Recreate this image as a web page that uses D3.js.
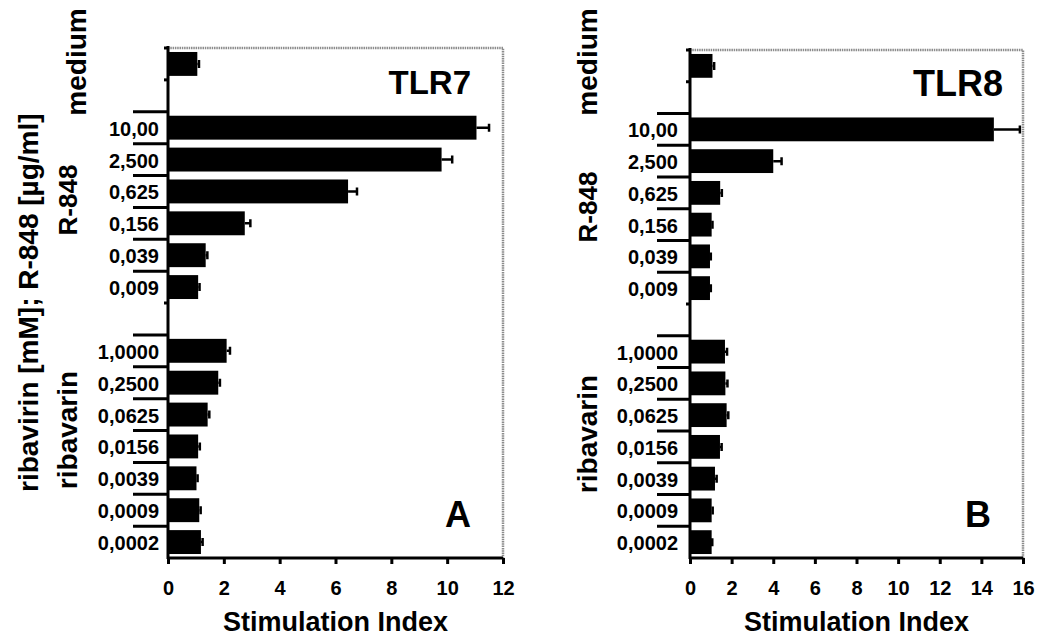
<!DOCTYPE html>
<html>
<head>
<meta charset="utf-8">
<script src="https://d3js.org/d3.v7.min.js"></script>
<style>
  body { margin: 0; background: #fff; }
  svg text { font-family: "Liberation Sans", Arial, sans-serif; font-weight: bold; fill: #000; }
</style>
</head>
<body>
<div id="chart"></div>
<script>
// rows from top to bottom; "" rows are the blank spacers between groups
var rowKeys = ["medium", "", "10,00", "2,500", "0,625", "0,156", "0,039", "0,009", " ",
  "1,0000", "0,2500", "0,0625", "0,0156", "0,0039", "0,0009", "0,0002"];
var doseRows = ["10,00", "2,500", "0,625", "0,156", "0,039", "0,009",
  "1,0000", "0,2500", "0,0625", "0,0156", "0,0039", "0,0009", "0,0002"];
var barRows = ["medium"].concat(doseRows);

// stimulation index per bar (same order as barRows)
var tlr7Values = [1.05, 11.05, 9.8, 6.45, 2.75, 1.35, 1.08, 2.1, 1.8, 1.42, 1.08, 1.02, 1.12, 1.18];
var tlr7Errors = [0.06, 0.45, 0.38, 0.32, 0.2, 0.06, 0.05, 0.12, 0.06, 0.06, 0.06, 0.04, 0.05, 0.06];
var tlr8Values = [1.08, 14.6, 4.0, 1.45, 1.04, 0.96, 0.96, 1.68, 1.7, 1.76, 1.44, 1.2, 1.04, 1.04];
var tlr8Errors = [0.08, 1.25, 0.4, 0.08, 0.04, 0.04, 0.04, 0.1, 0.1, 0.08, 0.08, 0.08, 0.05, 0.03];

var tlr7Ticks = [0, 2, 4, 6, 8, 10, 12];
var tlr8Ticks = [0, 2, 4, 6, 8, 10, 12, 14, 16];

var svg = d3.select("#chart").append("svg")
  .attr("width", 1052)
  .attr("height", 638);

function drawPanel(p) {
  var g = svg.append("g");

  var x = d3.scaleLinear().domain([0, p.xMax]).range([p.left, p.right]);
  var y = d3.scaleBand().domain(rowKeys).range([p.top, p.bottom])
    .paddingInner(0.25).paddingOuter(0.125);
  var step = y.step();
  var rowTop = function (k) { return y(k) - step * 0.125; };

  // grey frame on top and right
  g.append("path")
    .attr("d", "M" + p.left + "," + p.top + "H" + p.right + "V" + p.bottom)
    .attr("fill", "none")
    .attr("stroke", "#8c8c8c")
    .attr("stroke-width", 2.5)
    .attr("stroke-dasharray", "1.5,0.8");

  // bars
  g.selectAll("rect.bar").data(barRows).enter().append("rect")
    .attr("class", "bar")
    .attr("x", x(0))
    .attr("y", function (d) { return y(d); })
    .attr("width", function (d, i) { return x(p.values[i]) - x(0); })
    .attr("height", y.bandwidth())
    .attr("fill", "#000");

  // error bars (one sided)
  g.selectAll("path.err").data(barRows).enter().append("path")
    .attr("class", "err")
    .attr("d", function (d, i) {
      var cy = y(d) + y.bandwidth() / 2;
      var x1 = x(p.values[i]), x2 = x(p.values[i] + p.errors[i]);
      return "M" + x1 + "," + cy + "H" + x2 + "M" + x2 + "," + (cy - 4) + "V" + (cy + 4);
    })
    .attr("stroke", "#000")
    .attr("stroke-width", 2.5)
    .attr("fill", "none");

  // long category ticks at the top of each dose row
  g.selectAll("line.ytick").data(doseRows).enter().append("line")
    .attr("class", "ytick")
    .attr("x1", p.left - p.tickLen).attr("x2", p.left)
    .attr("y1", function (d) { return rowTop(d); })
    .attr("y2", function (d) { return rowTop(d); })
    .attr("stroke", "#000").attr("stroke-width", 3);

  // short ticks around the medium row and below the R-848 group
  var shortTicks = [rowTop("medium"), rowTop(""), rowTop(" ")];
  g.selectAll("line.stick").data(shortTicks).enter().append("line")
    .attr("class", "stick")
    .attr("x1", p.left - 4).attr("x2", p.left)
    .attr("y1", function (d) { return d; })
    .attr("y2", function (d) { return d; })
    .attr("stroke", "#000").attr("stroke-width", 3);

  // dose labels
  g.selectAll("text.ylab").data(doseRows).enter().append("text")
    .attr("class", "ylab")
    .attr("x", p.labelX)
    .attr("y", function (d) { return y(d) + y.bandwidth() / 2 + 8; })
    .attr("text-anchor", "end")
    .style("font-size", "20px")
    .text(function (d) { return d; });

  // y axis line
  g.append("line")
    .attr("x1", p.left).attr("x2", p.left)
    .attr("y1", p.top - 2).attr("y2", p.bottom + 1)
    .attr("stroke", "#000").attr("stroke-width", 3);

  // x axis
  var xAxis = d3.axisBottom(x).tickValues(p.ticks).tickSize(6).tickPadding(17)
    .tickFormat(d3.format("d"));
  var ax = g.append("g")
    .attr("transform", "translate(0," + p.bottom + ")")
    .call(xAxis);
  ax.select(".domain").attr("stroke-width", 3).attr("d", "M" + p.left + ",0H" + p.right);
  ax.selectAll(".tick line").attr("stroke-width", 3);
  ax.selectAll(".tick text")
    .style("font-size", "20px")
    .style("font-family", "'Liberation Sans', Arial, sans-serif")
    .style("font-weight", "bold");

  g.append("text")
    .attr("x", (p.left + p.right) / 2)
    .attr("y", 631)
    .attr("text-anchor", "middle")
    .style("font-size", "27px")
    .text("Stimulation Index");

  // group labels (rotated)
  p.groupLabels.forEach(function (gl) {
    g.append("text")
      .attr("transform", "translate(" + gl.x + "," + gl.y + ") rotate(-90)")
      .attr("text-anchor", gl.anchor || "middle")
      .style("font-size", gl.size + "px")
      .text(gl.text);
  });

  // panel titles
  g.append("text")
    .attr("x", p.titleX).attr("y", p.titleY)
    .attr("text-anchor", "end")
    .style("font-size", p.titleSize + "px")
    .text(p.title);
  g.append("text")
    .attr("x", p.letterX).attr("y", 527)
    .attr("text-anchor", "end")
    .style("font-size", "36px")
    .text(p.letter);
}

drawPanel({
  left: 168, right: 503, top: 48, bottom: 558, xMax: 12,
  ticks: tlr7Ticks, values: tlr7Values, errors: tlr7Errors,
  tickLen: 35, labelX: 159,
  title: "TLR7", titleX: 471, titleY: 94, titleSize: 33,
  letter: "A", letterX: 471,
  groupLabels: [
    { text: "medium", x: 86, y: 62, size: 28 },
    { text: "R-848", x: 77, y: 200, size: 26 },
    { text: "ribavarin", x: 77, y: 430, size: 28 },
    { text: "ribavirin [mM]; R-848 [µg/ml]", x: 38, y: 492, size: 28, anchor: "start" }
  ]
});

drawPanel({
  left: 690, right: 1023, top: 50, bottom: 558, xMax: 16,
  ticks: tlr8Ticks, values: tlr8Values, errors: tlr8Errors,
  tickLen: 33, labelX: 678,
  title: "TLR8", titleX: 1003, titleY: 96, titleSize: 36,
  letter: "B", letterX: 991,
  groupLabels: [
    { text: "medium", x: 597, y: 62, size: 28 },
    { text: "R-848", x: 597, y: 207, size: 26 },
    { text: "ribavarin", x: 597, y: 434, size: 28 }
  ]
});
</script>
</body>
</html>
